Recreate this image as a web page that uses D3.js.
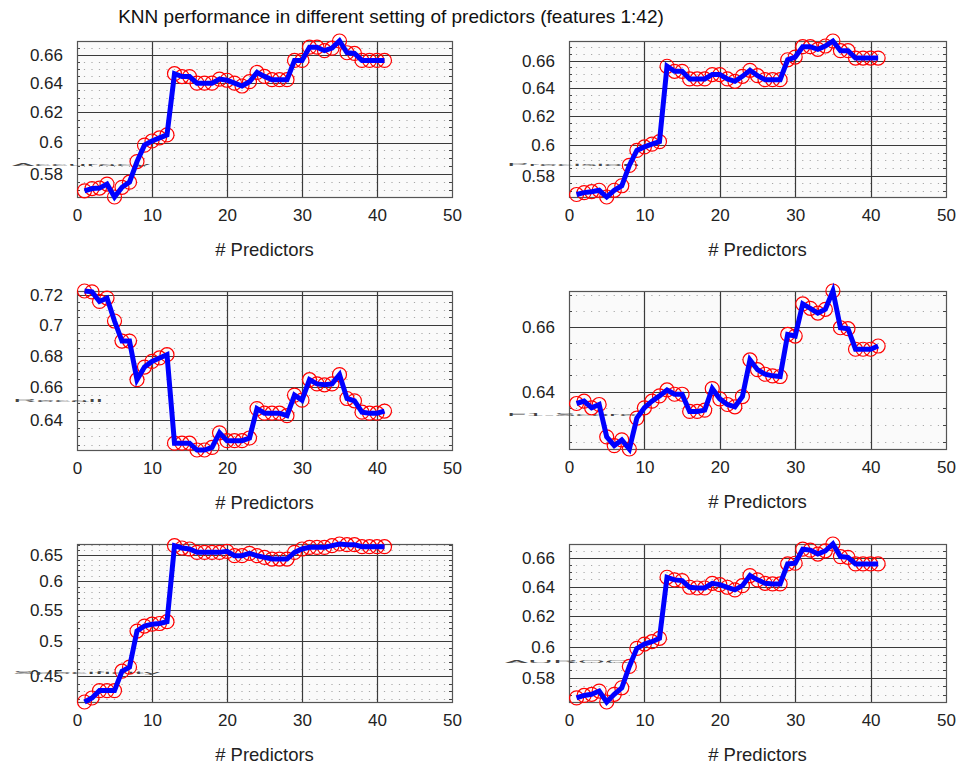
<!DOCTYPE html>
<html>
    <head>
        <meta charset="utf-8">
        <title>KNN performance</title>
        <script type="text/javascript" src="https://cdn.jsdelivr.net/npm/d3@7/dist/d3.min.js"></script>
        <style>
            body{margin:0;background:#fff;}
            text{font-family:"Liberation Sans",Arial,sans-serif;}
        </style>
    </head>
    <body>
        <script type="text/javascript">
            // number of predictors
            var predictors=[1,2,3,4,5,6,7,8,9,10,11,12,13,14,15,16,17,18,19,20,
                            21,22,23,24,25,26,27,28,29,30,31,32,33,34,35,36,37,38,39,40,41];

            var accuracy=[0.5693,0.5707,0.5710,0.5735,0.5655,0.5715,0.5747,0.5877,0.5983,0.6010,
                          0.6030,0.6050,0.6466,0.6446,0.6446,0.6400,0.6400,0.6400,0.6428,0.6420,
                          0.6400,0.6380,0.6410,0.6475,0.6447,0.6424,0.6424,0.6424,0.6560,0.6560,
                          0.6655,0.6655,0.6630,0.6648,0.6700,0.6615,0.6610,0.6560,0.6560,0.6560,0.6560];

            var precision=[0.5678,0.5690,0.5696,0.5705,0.5662,0.5705,0.5734,0.5867,0.5967,0.5990,
                           0.6009,0.6026,0.6559,0.6522,0.6522,0.6466,0.6466,0.6466,0.6498,0.6498,
                           0.6466,0.6449,0.6485,0.6529,0.6490,0.6461,0.6461,0.6461,0.6607,0.6627,
                           0.6705,0.6705,0.6685,0.6710,0.6748,0.6675,0.6675,0.6620,0.6620,0.6620,0.6620];

            var recall=[0.7228,0.7222,0.7157,0.7180,0.7026,0.6894,0.6894,0.6647,0.6727,0.6763,
                        0.6785,0.6806,0.6260,0.6260,0.6260,0.6220,0.6220,0.6235,0.6322,0.6275,
                        0.6275,0.6275,0.6291,0.6468,0.6440,0.6440,0.6440,0.6425,0.6551,0.6520,
                        0.6647,0.6621,0.6615,0.6621,0.6679,0.6530,0.6516,0.6446,0.6440,0.6440,0.6453];

            var f1score=[0.6364,0.6371,0.6351,0.6361,0.6264,0.6238,0.6255,0.6228,0.6320,0.6351,
                         0.6371,0.6387,0.6405,0.6392,0.6392,0.6340,0.6340,0.6344,0.6409,0.6378,
                         0.6361,0.6354,0.6385,0.6497,0.6467,0.6453,0.6448,0.6446,0.6576,0.6571,
                         0.6672,0.6658,0.6643,0.6655,0.6713,0.6597,0.6594,0.6530,0.6530,0.6530,0.6540];

            var specificity=[0.4162,0.4213,0.4308,0.4308,0.4308,0.4569,0.4625,0.5159,0.5238,0.5268,
                             0.5278,0.5307,0.6680,0.6633,0.6613,0.6546,0.6546,0.6546,0.6546,0.6566,
                             0.6480,0.6480,0.6526,0.6480,0.6447,0.6415,0.6415,0.6415,0.6546,0.6613,
                             0.6646,0.6646,0.6646,0.6680,0.6714,0.6700,0.6700,0.6660,0.6660,0.6660,0.6660];

            var auroc=[0.5680,0.5695,0.5702,0.5722,0.5655,0.5702,0.5742,0.5875,0.5990,0.6018,
                       0.6033,0.6055,0.6465,0.6447,0.6442,0.6396,0.6391,0.6391,0.6423,0.6414,
                       0.6396,0.6378,0.6407,0.6477,0.6447,0.6423,0.6419,0.6419,0.6558,0.6563,
                       0.6663,0.6656,0.6628,0.6651,0.6700,0.6610,0.6605,0.6558,0.6558,0.6558,0.6558];

            var seriesAll=[accuracy,precision,recall,f1score,specificity,auroc];
            var labels=["Accuracy","Precision","Recall","F1-Score","Specificity","AUROC"];

            var xTicks=[0,10,20,30,40,50];
            var yTicksAll=[[0.58,0.6,0.62,0.64,0.66],
                           [0.58,0.6,0.62,0.64,0.66],
                           [0.64,0.66,0.68,0.7,0.72],
                           [0.64,0.66],
                           [0.45,0.5,0.55,0.6,0.65],
                           [0.58,0.6,0.62,0.64,0.66]];
            var minorStep=[0.005,0.005,0.005,0.005,0.01,0.005];

            var titleText="KNN performance in different setting of predictors (features 1:42)";
            var xLabel="# Predictors";

            var w=960;
            var h=769;

            // axes boxes [left, top, right, bottom]
            var boxes=[[77,41,452,197],[569,41,946,197],
                       [77,291,452,450],[569,291,946,449],
                       [77,544,452,702],[569,544,946,702]];
            // squashed ylabel placement [x, y, length]
            var ylabPos=[[12,165,138],[507,165,133],[13,401,90],
                         [507,415,130],[13,673,147],[505,662,125]];

            var svg=d3.select("body")
                    .append("svg")
                    .attr("width",w)
                    .attr("height",h);

            svg.append("text")
                .text(titleText)
                .attr("x",391)
                .attr("y",23)
                .attr("text-anchor","middle")
                .attr("font-size","19px")
                .attr("fill","#111");

            for(var i=0;i<seriesAll.length;i++){
                var b=boxes[i];
                var data=seriesAll[i];
                var g=svg.append("g");

                var xScale=d3.scaleLinear()
                            .domain([0,50])
                            .range([b[0],b[2]]);
                var yScale=d3.scaleLog()
                            .domain(d3.extent(data))
                            .range([b[3],b[1]]);

                g.append("rect")
                    .attr("x",b[0])
                    .attr("y",b[1])
                    .attr("width",b[2]-b[0])
                    .attr("height",b[3]-b[1])
                    .attr("fill","#fafafa");

                // minor grid (dotted)
                var dom=yScale.domain();
                var minors=[];
                var start=Math.ceil(dom[0]/minorStep[i]-1e-6);
                for(var k=start;k*minorStep[i]<=dom[1]+1e-9;k++){
                    minors.push(+(k*minorStep[i]).toFixed(4));
                }
                g.selectAll(".minor")
                    .data(minors)
                    .enter()
                    .append("line")
                    .attr("x1",b[0])
                    .attr("x2",b[2])
                    .attr("y1",function(d){return Math.round(yScale(d))+0.5;})
                    .attr("y2",function(d){return Math.round(yScale(d))+0.5;})
                    .attr("stroke","#a8a8a8")
                    .attr("stroke-width",1)
                    .attr("stroke-dasharray","1.2,"+((b[2]-b[0])/50-1.2))
                    .attr("stroke-dashoffset",-((b[2]-b[0])/50-0.6));

                // minor ticks on both sides
                g.selectAll(".mt")
                    .data(minors)
                    .enter()
                    .append("path")
                    .attr("d",function(d){
                        var y=Math.round(yScale(d))+0.5;
                        return "M"+b[0]+","+y+"h3M"+b[2]+","+y+"h-3";
                    })
                    .attr("stroke","#444")
                    .attr("stroke-width",1);

                // major grid
                g.selectAll(".gx")
                    .data(xTicks.slice(1,-1))
                    .enter()
                    .append("line")
                    .attr("x1",function(d){return Math.round(xScale(d))+0.5;})
                    .attr("x2",function(d){return Math.round(xScale(d))+0.5;})
                    .attr("y1",b[1])
                    .attr("y2",b[3])
                    .attr("stroke","#3a3a3a")
                    .attr("stroke-width",1.2);
                g.selectAll(".gy")
                    .data(yTicksAll[i])
                    .enter()
                    .append("line")
                    .attr("x1",b[0])
                    .attr("x2",b[2])
                    .attr("y1",function(d){return Math.round(yScale(d))+0.5;})
                    .attr("y2",function(d){return Math.round(yScale(d))+0.5;})
                    .attr("stroke","#3a3a3a")
                    .attr("stroke-width",1.2);

                // box
                g.append("rect")
                    .attr("x",b[0]+0.5)
                    .attr("y",b[1]+0.5)
                    .attr("width",b[2]-b[0])
                    .attr("height",b[3]-b[1])
                    .attr("fill","none")
                    .attr("stroke","#555")
                    .attr("stroke-width",1.2);

                // axes labels
                var xAxis=d3.axisBottom(xScale)
                            .tickValues(xTicks)
                            .tickSize(0)
                            .tickPadding(12)
                            .tickFormat(d3.format("d"));
                var yAxis=d3.axisLeft(yScale)
                            .tickValues(yTicksAll[i])
                            .tickSize(0)
                            .tickPadding(14)
                            .tickFormat(function(d){return String(d);});

                var ax=g.append("g")
                    .attr("transform","translate(0,"+b[3]+")")
                    .call(xAxis);
                var ay=g.append("g")
                    .attr("transform","translate("+b[0]+",0)")
                    .call(yAxis);
                [ax,ay].forEach(function(a){
                    a.select(".domain").remove();
                    a.selectAll("text")
                        .attr("font-size","17px")
                        .attr("font-family","Liberation Sans, Arial, sans-serif")
                        .attr("fill","#222");
                });

                g.append("text")
                    .text(xLabel)
                    .attr("x",(b[0]+b[2])/2)
                    .attr("y",b[3]+59)
                    .attr("text-anchor","middle")
                    .attr("font-size","18.5px")
                    .attr("fill","#222");

                // broken ylabel, drawn flattened
                var yl=ylabPos[i];
                g.append("text")
                    .text(labels[i])
                    .attr("transform","translate("+yl[0]+","+yl[1]+") scale(1,0.22)")
                    .attr("x",0)
                    .attr("y",6)
                    .attr("textLength",yl[2])
                    .attr("lengthAdjust","spacingAndGlyphs")
                    .attr("font-size","17px")
                    .attr("fill","#444");

                // markers
                g.selectAll(".pt")
                    .data(data)
                    .enter()
                    .append("circle")
                    .attr("cx",function(d,j){return xScale(predictors[j]);})
                    .attr("cy",function(d){return yScale(d);})
                    .attr("r",7)
                    .attr("fill","none")
                    .attr("stroke","#ff0000")
                    .attr("stroke-width",1.2);

                var line=d3.line()
                    .x(function(d,j){return xScale(predictors[j]);})
                    .y(function(d){return yScale(d);});

                g.append("path")
                    .attr("d",line(data))
                    .attr("fill","none")
                    .attr("stroke","#0000ff")
                    .attr("stroke-width",5)
                    .attr("stroke-linejoin","miter");
            }
        </script>
    </body>
</html>
